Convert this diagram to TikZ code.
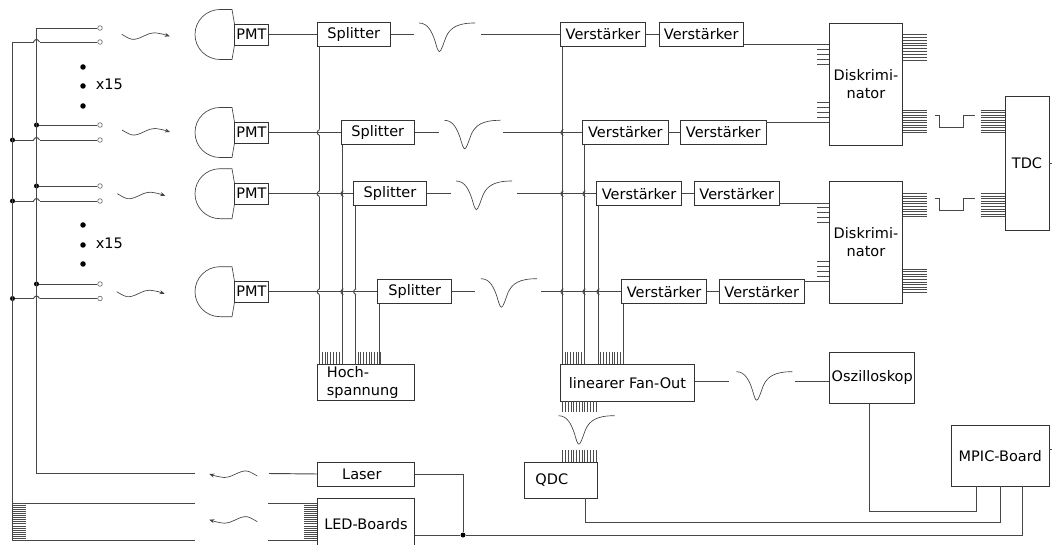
\documentclass[tikz,border=0pt]{standalone}
\usepackage{fontspec}
\setmainfont{DejaVu Sans}
\usetikzlibrary{arrows.meta}
\tikzset{
  x=1pt,y=-1pt,
  wire/.style={draw=black!72,line width=0.95pt},
  hair/.style={draw=black!70,line width=0.6pt},
  thin wave/.style={draw=black!75,line width=0.65pt},
  bx/.style={draw=black!80,line width=0.9pt,inner sep=0pt,font=\fontsize{14.5}{18.5}\selectfont,align=center},
  txt/.style={inner sep=0pt,font=\fontsize{14.5}{18.5}\selectfont,align=left},
  port/.style={circle,draw=black!55,fill=white,line width=0.7pt,minimum size=4.6pt,inner sep=0pt},
  jn/.style={circle,fill=black,minimum size=5pt,inner sep=0pt},
  bigdot/.style={circle,fill=black,minimum size=5.5pt,inner sep=0pt},
}
% box from corners
\newcommand\bxn[6]{\node[bx,minimum width={(#4)-(#2)},minimum height={(#5)-(#3)}] (#1) at ({((#2)+(#4))/2},{((#3)+(#5))/2}) {#6};}
% horizontal-line hatch
\newcommand\hh[5]{\foreach \i in {0,...,#5}{\draw[hair] (#1,{#3+\i*(#4-#3)/#5}) -- (#2,{#3+\i*(#4-#3)/#5});}}
% vertical-line hatch
\newcommand\hv[5]{\foreach \i in {0,...,#5}{\draw[hair] ({#1+\i*(#2-#1)/#5},#3) -- ({#1+\i*(#2-#1)/#5},#4);}}
% hop of a vertical line to the left
\newcommand\hopv[2]{\fill[white] ({#1-0.8},{#2-3}) rectangle ({#1+0.8},{#2+3});
  \draw[wire] (#1,{#2-3}) .. controls ({#1-3.2},{#2-1}) and ({#1-3.2},{#2+1}) .. (#1,{#2+3});}
% hop of a horizontal line upwards
\newcommand\hoph[2]{\fill[white] ({#1-3},{#2-0.8}) rectangle ({#1+3},{#2+0.8});
  \draw[wire] ({#1-3},#2) .. controls ({#1-1},{#2-3.4}) and ({#1+1},{#2-3.4}) .. ({#1+3},#2);}
\newcommand\pulse[2]{\draw[thin wave,shift={(#1,#2)}] (0,0) .. controls (9,0) and (13,9) .. (16,18) .. controls (18,25) and (19,28.5) .. (20.5,28.5) .. controls (22,28.5) and (24,22) .. (27,14) .. controls (31,5) and (38,0) .. (56,0);}
\newcommand\squig[3]{\draw[thin wave,-{Stealth[length=5pt,width=4pt]},shift={(#1,#2)},xscale=#3,yscale=#3] (0,0) .. controls (6,3.5) and (9,5.5) .. (13,5) .. controls (20,4) and (27,-2) .. (33,-1.5) .. controls (38,-1) and (42,0) .. (48,2);}
\newcommand\sq[2]{\draw[wire,shift={(#1,#2)}] (0,0) -- (4.6,0) -- (4.6,12) -- (28.6,12) -- (28.6,0) -- (40,0);}
\newcommand\pmtshape[2]{\draw[thin wave,shift={(0,#1)}] (234.5,-10.5) -- (232,-25) -- (220,-25) .. controls (206.2,-25) and (195,-13.8) .. (195,0) .. controls (195,13.8) and (206.2,25) .. (220,25) -- (232,25) -- (234.5,10.5);}
\begin{document}
\begin{tikzpicture}
\useasboundingbox (0,0) rectangle (1052,545);
\fill[white] (0,0) rectangle (1052,545);

% PMT outlines and boxes
\pmtshape{34.5}{}\pmtshape{132.5}{}\pmtshape{193.7}{}\pmtshape{291.7}{}
\bxn{p1}{234.5}{24}{268.5}{45}{PMT}
\bxn{p2}{234.5}{122}{268.5}{143}{PMT}
\bxn{p3}{234.5}{183.2}{268.5}{204.2}{PMT}
\bxn{p4}{234.5}{281.2}{268.5}{302.2}{PMT}

% Splitters
\bxn{s1}{317.3}{22.5}{390.3}{46.5}{Splitter}
\bxn{s2}{341.3}{120.5}{414.3}{144.5}{Splitter}
\bxn{s3}{353.3}{181.7}{426.7}{205.7}{Splitter}
\bxn{s4}{377.7}{279.7}{451.7}{303.7}{Splitter}

% Amplifiers
\bxn{a1}{560.3}{22.5}{645.7}{46.5}{Verstärker}
\bxn{a2}{582.7}{120.5}{668}{144.5}{Verstärker}
\bxn{a3}{596.7}{181.7}{681.5}{205.7}{Verstärker}
\bxn{a4}{621.7}{279.7}{706.5}{303.7}{Verstärker}
\bxn{b1}{659}{22.5}{743.5}{46.5}{Verstärker}
\bxn{b2}{680.5}{120.5}{766}{144.5}{Verstärker}
\bxn{b3}{694.5}{181.7}{779}{205.7}{Verstärker}
\bxn{b4}{719.5}{279.7}{804}{303.7}{Verstärker}

% Large boxes
\bxn{d1}{829.3}{23.3}{902.7}{145}{Diskrimi-\\nator}
\bxn{d2}{829.3}{181.3}{902.7}{303.3}{Diskrimi-\\nator}
\bxn{tdc}{1005}{96.3}{1049}{230.3}{TDC}
\bxn{hoch}{317.3}{364.3}{414.3}{400.7}{}
\node[txt,anchor=west] (hochtxt) at (326.7,382.5) {Hoch-\\spannung};
\bxn{fan}{560.2}{364.3}{694.7}{401}{linearer Fan-Out}
\bxn{qdc}{524.3}{462.3}{597.3}{498.3}{QDC\hspace*{18pt}}
\bxn{osz}{829.6}{352.3}{914.8}{403.3}{Oszilloskop}
\bxn{mpic}{951.4}{425.7}{1049}{486.3}{MPIC-Board}
\bxn{laser}{317.3}{462}{414.5}{486}{Laser\hspace*{8pt}}
\bxn{led}{317.3}{498.7}{414.5}{550}{LED-Boards}

% Fibre ends and junctions
\node[port] (f1a) at (100,28) {};
\node[port] (f1b) at (100,42) {};
\node[port] (f2a) at (100,125) {};
\node[port] (f2b) at (100,140) {};
\node[port] (f3a) at (100,186) {};
\node[port] (f3b) at (100,201) {};
\node[port] (f4a) at (100,284) {};
\node[port] (f4b) at (100,298.5) {};
\node[jn] (j2a) at (36.5,125) {};
\node[jn] (j2b) at (12.5,140) {};
\node[jn] (j3a) at (36.5,186) {};
\node[jn] (j3b) at (12.5,201) {};
\node[jn] (j4a) at (36.5,284) {};
\node[jn] (j4b) at (12.5,298.5) {};
\node[jn] (jb) at (463,535) {};

% free ends
\coordinate (rtA) at (36.5,28);
\coordinate (rtB) at (12.5,42);
\coordinate (laserL) at (195,473.5);
\coordinate (laserR) at (269,473.5);
\coordinate (rbA) at (36.5,473.5);
\coordinate (ledTa) at (12.5,503.5);
\coordinate (ledTb) at (195,503.5);
\coordinate (ledTc) at (268,503.5);
\coordinate (ledTd) at (317.3,503.5);
\coordinate (ledBa) at (12.5,540);
\coordinate (ledBb) at (195,540);
\coordinate (ledBc) at (268,540);
\coordinate (ledBd) at (317.3,540);
\coordinate (tdcEnd) at (1052,163.3);
\coordinate (mpicEnd) at (1052,449);
\coordinate (mpicR) at (1049,449);

% left wiring
\draw[wire] (f1b) -- (rtB);
\draw[wire] (f2b) -- (j2b);
\draw[wire] (f3b) -- (j3b);
\draw[wire] (f4b) -- (j4b);
\hoph{36.5}{42}\hoph{36.5}{140}\hoph{36.5}{201}\hoph{36.5}{298.5}
\draw[wire] (f1a) -- (rtA) -- (rbA) -- (laserL);
\draw[wire] (rtB) -- (ledBa) -- (ledBb);
\draw[wire] (ledTa) -- (ledTb);
\draw[wire] (ledTc) -- (ledTd);
\draw[wire] (ledBc) -- (ledBd);
\draw[wire] (laserR) -- (laser.west);
\draw[wire] (f2a) -- (j2a);
\draw[wire] (f3a) -- (j3a);
\draw[wire] (f4a) -- (j4a);
\hh{12.5}{25.7}{503.5}{538}{17}
\hh{304}{317.3}{503.5}{538}{17}

% squiggles
\squig{121.7}{34.3}{1}
\squig{122}{130}{1}
\squig{117.3}{193.7}{1}
\squig{116.7}{291.7}{1}
\squig{257.3}{476}{-1}
\squig{257.3}{521.7}{-1}

% Vertical connectors to HV and fan-out (with hops), drawn before the rows
\draw[wire] ([xshift=2.2pt]s1.south west) -- ([xshift=2.2pt]s1.south west |- hoch.north);
\draw[wire] ([xshift=2pt]s2.south west) -- ([xshift=2pt]s2.south west |- hoch.north);
\draw[wire] ([xshift=2.7pt]s3.south west) -- ([xshift=2.7pt]s3.south west |- hoch.north);
\draw[wire] ([xshift=2.3pt]s4.south west) -- ([xshift=2.3pt]s4.south west |- hoch.north);
\draw[wire] ([xshift=3pt]a1.south west) -- ([xshift=3pt]a1.south west |- fan.north);
\draw[wire] ([xshift=2.6pt]a2.south west) -- ([xshift=2.6pt]a2.south west |- fan.north);
\draw[wire] ([xshift=2.6pt]a3.south west) -- ([xshift=2.6pt]a3.south west |- fan.north);
\draw[wire] ([xshift=2.6pt]a4.south west) -- ([xshift=2.6pt]a4.south west |- fan.north);
\hopv{319.5}{132.5}\hopv{319.5}{193.7}\hopv{319.5}{291.7}
\hopv{343.3}{193.7}\hopv{343.3}{291.7}
\hopv{356}{291.7}
\hopv{563.3}{132.5}\hopv{563.3}{193.7}\hopv{563.3}{291.7}
\hopv{585.3}{193.7}\hopv{585.3}{291.7}
\hopv{599.3}{291.7}

% rows
\coordinate (g1a) at (414,34.5);   \coordinate (g1b) at (481,34.5);
\coordinate (g2a) at (438.7,132.5);\coordinate (g2b) at (503.3,132.5);
\coordinate (g3a) at (451,193.7);  \coordinate (g3b) at (517,193.7);
\coordinate (g4a) at (475,291.7);  \coordinate (g4b) at (541,291.7);
\draw[wire] (p1.east) -- (s1.west);
\draw[wire] (p2.east) -- (s2.west);
\draw[wire] (p3.east) -- (s3.west);
\draw[wire] (p4.east) -- (s4.west);
\draw[wire] (s1.east) -- (g1a); \draw[wire] (g1b) -- (a1.west);
\draw[wire] (s2.east) -- (g2a); \draw[wire] (g2b) -- (a2.west);
\draw[wire] (s3.east) -- (g3a); \draw[wire] (g3b) -- (a3.west);
\draw[wire] (s4.east) -- (g4a); \draw[wire] (g4b) -- (a4.west);
\draw[wire] (a1.east) -- (b1.west);
\draw[wire] (a2.east) -- (b2.west);
\draw[wire] (a3.east) -- (b3.west);
\draw[wire] (a4.east) -- (b4.west);
\draw[wire] ([yshift=-10pt]b1.east) -- ([yshift=-10pt]b1.east -| d1.west);
\draw[wire] ([yshift=10pt]b2.east) -- ([yshift=10pt]b2.east -| d1.west);
\draw[wire] ([yshift=-10pt]b3.east) -- ([yshift=-10pt]b3.east -| d2.west);
\draw[wire] ([yshift=10.4pt]b4.east) -- ([yshift=10.4pt]b4.east -| d2.west);

% pulses
\pulse{419}{23}\pulse{444.3}{120.3}\pulse{456}{181}\pulse{481}{278.7}
\pulse{736.3}{371.7}\pulse{558.5}{415.7}
\sq{935.3}{115.3}
\sq{934.6}{198.7}

% hatches
\hv{322}{342}{352.3}{364.3}{7}
\hv{358}{380}{352.3}{364.3}{8}
\hv{565}{584}{352.3}{364.3}{7}
\hv{600.7}{623}{352.3}{364.3}{8}
\hv{562.7}{595.8}{401}{412.3}{12}
\hv{562.7}{595.8}{450}{462.3}{12}
\hh{817.3}{829.3}{49}{64.3}{3}
\hh{817.3}{829.3}{102.3}{117.3}{3}
\hh{817.3}{829.3}{207}{222.3}{3}
\hh{817.3}{829.3}{261}{276}{3}
\hh{902.7}{927}{34.3}{60}{9}
\hh{902.7}{927}{110}{132.7}{9}
\hh{902.7}{927}{193.3}{216.7}{9}
\hh{902.7}{927}{269}{292.3}{9}
\hh{980.7}{1005}{110}{132.7}{9}
\hh{980.7}{1005}{193.3}{216.7}{9}

% lower right wiring
\coordinate (fg1) at (728.9,381.7);
\coordinate (fg2) at (795.4,381.7);
\coordinate (m1) at (976.4,486.3);
\coordinate (m2) at (1000,486.3);
\coordinate (m3) at (1022.9,486.3);
\coordinate (oszb) at (869.7,403.3);
\coordinate (oszc) at (869.7,511);
\coordinate (qdcb) at (585.6,498.3);
\coordinate (qdcc) at (585.6,522.3);
\draw[wire] (fan.east |- fg1) -- (fg1);
\draw[wire] (fg2) -- (osz.west |- fg2);
\draw[wire] (laser.east) -| (jb);
\draw[wire] (led.east |- jb) -- (jb) -| (m3);
\draw[wire] (oszb) -- (oszc) -| (m1);
\draw[wire] (qdcb) -- (qdcc) -| (m2);
\draw[wire] (tdc.east) -- (tdcEnd);
\draw[wire] (mpicR) -- (mpicEnd);

% x15
\node[bigdot] (k1) at (83,67) {};
\node[bigdot] (k2) at (83,86) {};
\node[bigdot] (k3) at (83,106) {};
\node[bigdot] (k4) at (83,225) {};
\node[bigdot] (k5) at (83,245) {};
\node[bigdot] (k6) at (83,264) {};
\node[txt] (x1) at (109.3,84.5) {x15};
\node[txt] (x2) at (109.3,243) {x15};
\end{tikzpicture}
\end{document}
